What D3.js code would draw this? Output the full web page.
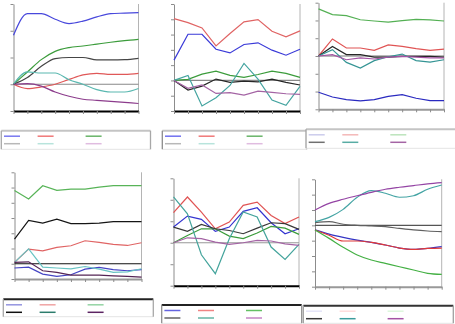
<!DOCTYPE html>
<html>
<head>
<meta charset="utf-8">
<script src="https://cdn.jsdelivr.net/npm/d3@7"></script>
<style>
    body { margin: 0; background: #fff; }
    svg { display: block; }
</style>
</head>
<body>
<svg id="scene" width="455" height="324"></svg>
<script>
// ten periods along the x axis
const steps = d3.range(10);

// series order in every panel: blue, red, green, grey, teal, purple
const valuesA = [
    [1.83, 2.64, 2.64, 2.43, 2.27, 2.36, 2.52, 2.64, 2.66, 2.68],
    [0, -0.16, -0.1, 0, 0.18, 0.35, 0.41, 0.37, 0.37, 0.41],
    [0, 0.46, 0.92, 1.23, 1.37, 1.43, 1.5, 1.57, 1.63, 1.68],
    [0, 0.25, 0.67, 0.96, 1.0, 1.0, 0.91, 0.91, 0.92, 0.97],
    [0, 0.46, 0.42, 0.42, 0.17, 0, -0.2, -0.29, -0.29, -0.16],
    [0, 0.02, -0.07, -0.29, -0.45, -0.56, -0.6, -0.64, -0.68, -0.72]
];
const valuesB = [
    [1.33, 3.02, 3.02, 2.04, 1.8, 2.35, 2.46, 1.98, 1.65, 2.04],
    [4.04, 3.78, 3.43, 2.26, 3.07, 3.83, 3.98, 3.22, 2.85, 3.24],
    [0, 0.07, 0.41, 0.61, 0.33, 0.2, 0.39, 0.61, 0.46, 0.2],
    [0, -0.63, -0.37, 0.09, -0.13, -0.04, -0.09, 0.09, -0.13, -0.3],
    [0, 0.33, -1.67, -1.13, -0.33, 1.11, 0.09, -1.28, -1.63, -0.39],
    [0, -0.52, -0.3, -0.85, -0.8, -0.96, -0.7, -0.78, -0.87, -0.91]
];
const valuesC = [
    [-2.04, -2.31, -2.46, -2.53, -2.46, -2.27, -2.18, -2.38, -2.51, -2.51],
    [0, 0.96, 0.45, 0.45, 0.32, 0.62, 0.54, 0.41, 0.32, 0.39],
    [2.65, 2.33, 2.27, 2.04, 1.97, 1.91, 1.99, 2.06, 2.03, 1.97],
    [0, 0.54, 0.08, 0.08, -0.06, -0.06, -0.02, -0.02, -0.02, -0.06],
    [0, 0.36, -0.36, -0.68, -0.26, -0.04, 0.11, -0.26, -0.34, -0.21],
    [0, 0.08, -0.21, -0.11, -0.17, -0.06, -0.02, -0.06, -0.11, -0.11]
];
const valuesD = [
    [-0.28, -0.22, -0.68, -0.83, -0.72, -0.35, -0.24, -0.39, -0.46, -0.39],
    [0.09, 0.96, 0.85, 1.07, 1.18, 1.51, 1.4, 1.27, 1.2, 1.38],
    [4.81, 4.25, 5.12, 4.81, 4.9, 4.9, 5.03, 5.12, 5.12, 5.12],
    [1.62, 2.84, 2.67, 2.93, 2.63, 2.63, 2.67, 2.76, 2.76, 2.76],
    [0.09, 0.98, -0.22, -0.28, -0.33, -0.18, -0.35, -0.57, -0.53, -0.33],
    [0.09, 0.13, -0.46, -0.57, -0.74, -0.74, -0.74, -0.79, -0.83, -0.88]
];
const valuesE = [
    [0.73, 1.24, 1.09, 0.53, 0.73, 1.46, 1.63, 0.93, 0.42, 0.65],
    [1.4, 2.13, 1.43, 0.65, 0.96, 1.74, 1.89, 1.27, 0.89, 1.2],
    [0, 0.34, 0.65, 0.65, 0.31, 0.19, 0.45, 0.76, 0.68, 0.39],
    [0.73, 0.53, 0.85, 0.65, 0.57, 0.42, 0.68, 0.93, 0.89, 0.62],
    [2.13, 1.35, -0.56, -1.44, 0.19, 1.43, 1.2, -0.2, -0.78, -0.08],
    [0, 0.23, 0.19, 0.03, -0.08, 0, 0.11, 0.08, -0.05, -0.12]
];
const valuesF = [
    [-0.3, -0.57, -0.78, -0.96, -1.11, -1.28, -1.48, -1.57, -1.5, -1.39],
    [-0.3, -0.65, -1.02, -1.02, -1.11, -1.28, -1.48, -1.57, -1.5, -1.48],
    [-0.3, -0.85, -1.43, -1.93, -2.26, -2.48, -2.7, -2.91, -3.13, -3.2],
    [0.17, 0.24, 0.07, 0, -0.04, -0.09, -0.2, -0.3, -0.37, -0.41],
    [0.24, 0.52, 1.04, 1.83, 2.26, 2.09, 1.83, 1.93, 2.35, 2.63],
    [1, 1.43, 1.7, 1.93, 2.15, 2.35, 2.48, 2.59, 2.7, 2.78]
];

// y extents (one tick per unit)
const domainA = [-1, 3];
const domainB = [-2, 5];
const domainC = [-3, 3];
const domainD = [-1, 6];
const domainE = [-2, 3];
const domainF = [-4, 3];

// line colours, then the paler swatches used in each key
const colorsA = ["#4848dc", "#e05858", "#3c9c3c", "#454545", "#5ab8b0", "#8c3c8c"];
const keyA = ["#7878f0", "#f07878", "#68b468", "#b8b8b8", "#b8e4dc", "#e0bce0"];
const colorsB = ["#3a3ad8", "#e06464", "#3c9c3c", "#262626", "#44a4a0", "#a464a4"];
const keyB = ["#7070f0", "#f07878", "#68b468", "#b8b8b8", "#b8e4dc", "#e0bce0"];
const colorsC = ["#2a2ac0", "#e05454", "#54b054", "#262626", "#349494", "#a454a4"];
const keyC = ["#ccccec", "#f4b8b8", "#bce4bc", "#707070", "#58aca4", "#a464a4"];
const colorsD = ["#4444c4", "#e06464", "#58b458", "#151515", "#68c4c4", "#542454"];
const keyD = ["#9494e0", "#f0a4a4", "#94d4a4", "#101010", "#2c7c6c", "#5c2462"];
const colorsE = ["#3434d0", "#e05454", "#3c9c3c", "#383838", "#44a49c", "#a464a4"];
const keyE = ["#6464e0", "#f08484", "#64c064", "#646464", "#64b4a4", "#c484c4"];
const colorsF = ["#3434c4", "#e03838", "#44b044", "#606060", "#44a4a4", "#9444a4"];
const keyF = ["#e4e4f8", "#ffdcdc", "#dcf8dc", "#383838", "#3c9c9c", "#a454a4"];

// plot frames and key boxes
const framesAll = [
    { left: 13.5, right: 138.5, top: 4, bottom: 111 },
    { left: 174, right: 300, top: 4, bottom: 111 },
    { left: 318.5, right: 444, top: 2.7, bottom: 109.3 },
    { left: 14.5, right: 141.5, top: 172.3, bottom: 279 },
    { left: 173.5, right: 299, top: 178.3, bottom: 285.7 },
    { left: 315, right: 441.7, top: 179.3, bottom: 286.7 }
];
const keyBoxes = [
    { x0: 1.3, x1: 150.5, y0: 130.7, y1: 149.3, topColor: "#c4c4c4", sideColor: "#a8a8a8" },
    { x0: 162.3, x1: 306.7, y0: 130.7, y1: 149.3, topColor: "#c4c4c4", sideColor: "#8c8c8c" },
    { x0: 306, x1: 458, y0: 129.3, y1: 148.3, topColor: "#c4c4c4", sideColor: "#a0a0a0" },
    { x0: 3.3, x1: 153.3, y0: 299.3, y1: 316.7, topColor: "#222", sideColor: "#a8a8a8" },
    { x0: 161.7, x1: 301.7, y0: 305, y1: 323.3, topColor: "#222", sideColor: "#909090" },
    { x0: 303.3, x1: 453.3, y0: 305.7, y1: 323.3, topColor: "#333", sideColor: "#a0a0a0" }
];

const panels = [
    { domain: domainA, values: valuesA, colors: colorsA, key: keyA, curve: d3.curveMonotoneX, base: "#000", zero: "#888" },
    { domain: domainB, values: valuesB, colors: colorsB, key: keyB, curve: d3.curveLinear, base: "#000", zero: "#888" },
    { domain: domainC, values: valuesC, colors: colorsC, key: keyC, curve: d3.curveLinear, base: "#999", zero: "#777" },
    { domain: domainD, values: valuesD, colors: colorsD, key: keyD, curve: d3.curveLinear, base: "#999", zero: "#111" },
    { domain: domainE, values: valuesE, colors: colorsE, key: keyE, curve: d3.curveLinear, base: "#000", zero: "#999" },
    { domain: domainF, values: valuesF, colors: colorsF, key: keyF, curve: d3.curveMonotoneX, base: "#999", zero: "#555" }
];

const svg = d3.select("#scene");

panels.forEach((p, i) => {
    drawPanel(svg, framesAll[i], p);
    drawKey(svg, keyBoxes[i], p.key);
});

function drawPanel(svg, f, p) {
    const g = svg.append("g");

    const x = d3.scaleLinear().domain([0, steps.length - 1]).range([f.left, f.right]);
    const y = d3.scaleLinear().domain(p.domain).range([f.bottom, f.top]);

    // right-hand frame edge
    g.append("line")
        .attr("x1", f.right).attr("x2", f.right)
        .attr("y1", f.top).attr("y2", f.bottom)
        .attr("stroke", "#b4b4b4");

    // left value axis, ticks only
    const yAxis = g.append("g")
        .attr("transform", `translate(${f.left},0)`)
        .call(d3.axisLeft(y)
            .tickValues(d3.range(p.domain[0], p.domain[1] + 1))
            .tickFormat("")
            .tickSize(3)
            .tickSizeOuter(0));
    yAxis.select(".domain").attr("stroke", "#8c8c8c");
    yAxis.selectAll(".tick line").attr("stroke", "#8c8c8c");

    // category axis along the bottom
    const xAxis = g.append("g")
        .attr("transform", `translate(0,${f.bottom})`)
        .call(d3.axisBottom(x)
            .tickValues(steps)
            .tickFormat("")
            .tickSize(3)
            .tickSizeOuter(0));
    xAxis.select(".domain").attr("stroke", p.base).attr("stroke-width", 2);
    xAxis.selectAll(".tick line").attr("stroke", "#8c8c8c");

    // zero reference line
    g.append("line")
        .attr("x1", f.left).attr("x2", f.right)
        .attr("y1", y(0)).attr("y2", y(0))
        .attr("stroke", p.zero)
        .attr("stroke-width", 1.2);

    const line = d3.line()
        .x((d, j) => x(steps[j]))
        .y((d) => y(d))
        .curve(p.curve);

    g.selectAll(".series")
        .data(p.values)
        .enter()
        .append("path")
        .attr("class", "series")
        .attr("d", line)
        .attr("fill", "none")
        .attr("stroke", (d, j) => p.colors[j])
        .attr("stroke-width", 1.2);
}

function drawKey(svg, b, colors) {
    const g = svg.append("g");

    g.append("rect")
        .attr("x", b.x0).attr("y", b.y0)
        .attr("width", b.x1 - b.x0).attr("height", b.y1 - b.y0)
        .attr("fill", "#fff");

    // frame: heavy top, plain sides, faint bottom
    g.append("line")
        .attr("x1", b.x0).attr("x2", b.x1)
        .attr("y1", b.y0).attr("y2", b.y0)
        .attr("stroke", b.topColor).attr("stroke-width", 2);
    g.append("line")
        .attr("x1", b.x0).attr("x2", b.x1)
        .attr("y1", b.y1).attr("y2", b.y1)
        .attr("stroke", "#e4e4e4");
    [b.x0, b.x1].forEach((xx) => {
        g.append("line")
            .attr("x1", xx).attr("x2", xx)
            .attr("y1", b.y0).attr("y2", b.y1)
            .attr("stroke", b.sideColor).attr("stroke-width", 1.3);
    });

    // three swatches per row, two rows
    const colOffsets = [2.7, 36.3, 84.3];
    const rowOffsets = [5.5, 13];
    colors.forEach((c, k) => {
        const cx = b.x0 + colOffsets[k % 3];
        const cy = b.y0 + rowOffsets[Math.floor(k / 3)];
        g.append("line")
            .attr("x1", cx).attr("x2", cx + 16)
            .attr("y1", cy).attr("y2", cy)
            .attr("stroke", c)
            .attr("stroke-width", 1.5);
    });
}
</script>
</body>
</html>
